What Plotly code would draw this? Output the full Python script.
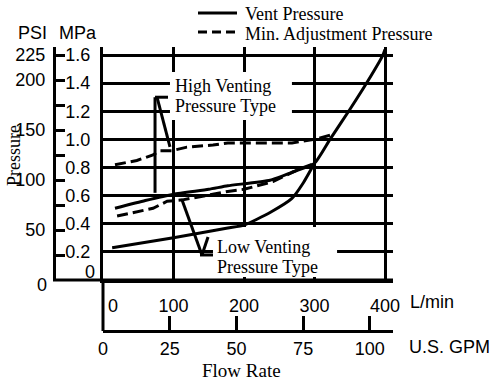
import plotly.graph_objects as go

W, H = 494, 381
SANS = "Liberation Sans, Arial, sans-serif"
SERIF = "Liberation Serif, Times New Roman, serif"

# ---------------- data (flow in L/min, pressure in MPa) ----------------
high_vent_flow = [17, 60, 100, 150, 177, 237, 270, 300, 322, 351, 375, 397, 400]
high_vent_mpa = [0.51, 0.565, 0.61, 0.645, 0.67, 0.71, 0.77, 0.83, 1.0, 1.22, 1.41, 1.60, 1.64]

low_vent_flow = [13, 100, 177, 200, 237, 268, 284, 300]
low_vent_mpa = [0.23, 0.30, 0.37, 0.39, 0.48, 0.58, 0.69, 0.83]

high_min_flow = [17, 48, 71, 81, 98, 119, 156, 177, 268, 300, 322]
high_min_mpa = [0.82, 0.85, 0.89, 0.92, 0.92, 0.945, 0.96, 0.975, 0.975, 1.0, 1.03]

low_min_flow = [20, 71, 91, 113, 177, 200, 241, 279, 300]
low_min_mpa = [0.455, 0.51, 0.56, 0.57, 0.63, 0.645, 0.70, 0.79, 0.83]

lpm_ticks = [0, 100, 200, 300, 400]
lpm_ticktext = ["\u00a0\u00a0\u00a0\u00a00", "100", "200", "300", "400"]
gpm_ticks = [0, 25, 50, 75, 100]
mpa_ticks = [0, 0.2, 0.4, 0.6, 0.8, 1.0, 1.2, 1.4, 1.6]
mpa_ticktext = ["", "0.2", "0.4", "0.6", "0.8", "1.0", "1.2", "1.4", "1.6"]
psi_ticks = [0, 25, 50, 75, 100, 125, 150, 175, 200, 225]
psi_ticktext = ["", "", "50", "", "100", "", "150", "", "200", "225"]

legend_names = ["Vent Pressure", "Min. Adjustment Pressure"]

LPM_PER_GPM = 3.785

# callout pointer segments (L/min, MPa)
high_callout_x0 = [73.8, 73.8, 76.6]
high_callout_y0 = [1.30, 1.30, 1.30]
high_callout_x1 = [92.2, 73.8, 95.0]
high_callout_y1 = [1.30, 0.62, 0.946]
low_callout_x0 = [112.0, 149.0, 137.6]
low_callout_y0 = [0.57, 0.306, 0.178]
low_callout_x1 = [140.4, 140.4, 156.0]
low_callout_y1 = [0.178, 0.178, 0.178]

# ---------------- geometry helpers (window pixels -> paper) ----------------
def px(x):
    return x / W

def py(y):
    return 1 - y / H

X_LEFT, X_RIGHT = 103, 393
Y_BOTTOM, Y_TOP = 280, 47
LPM_MAX = (X_RIGHT - X_LEFT) / 0.705
MPA_MAX = (Y_BOTTOM - Y_TOP) / 140.6
PSI_MAX = (Y_BOTTOM - Y_TOP) / 1.0

fig = go.Figure()

line_style = dict(color="black", width=3)
DASH = "11px,5px"
fig.add_trace(go.Scatter(x=high_vent_flow, y=high_vent_mpa, mode="lines",
                         line=dict(**line_style, shape="spline", smoothing=0.5),
                         name=legend_names[0]))
fig.add_trace(go.Scatter(x=high_min_flow, y=high_min_mpa, mode="lines",
                         line=dict(**line_style, dash=DASH), name=legend_names[1]))
fig.add_trace(go.Scatter(x=low_vent_flow, y=low_vent_mpa, mode="lines",
                         line=dict(**line_style, shape="spline", smoothing=0.5),
                         name=legend_names[0]))
fig.add_trace(go.Scatter(x=low_min_flow, y=low_min_mpa, mode="lines",
                         line=dict(**line_style, dash=DASH), name=legend_names[1]))
# invisible traces to activate the secondary axes
fig.add_trace(go.Scatter(x=[0], y=[0], yaxis="y2", mode="markers",
                         marker=dict(opacity=0), hoverinfo="skip"))
fig.add_trace(go.Scatter(x=[0], y=[0], xaxis="x2", mode="markers",
                         marker=dict(opacity=0), hoverinfo="skip"))

shapes = []
# white boxes behind callout texts (cover the grid, not the curves)
shapes.append(dict(type="rect", xref="x", yref="y", x0=95, x1=268, y0=1.138, y1=1.479,
                   fillcolor="white", line=dict(width=0), layer="between"))
shapes.append(dict(type="rect", xref="x", yref="y", x0=156, x1=332, y0=0.021, y1=0.377,
                   fillcolor="white", line=dict(width=0), layer="between"))
# callout pointers
for xs0, ys0, xs1, ys1 in [(high_callout_x0, high_callout_y0, high_callout_x1, high_callout_y1),
                           (low_callout_x0, low_callout_y0, low_callout_x1, low_callout_y1)]:
    for a, b, c, d in zip(xs0, ys0, xs1, ys1):
        shapes.append(dict(type="line", xref="x", yref="y", x0=a, y0=b, x1=c, y1=d,
                           line=dict(color="black", width=3)))
# bottom base line extending to the PSI axis
shapes.append(dict(type="line", xref="paper", yref="paper", x0=px(53), x1=px(X_RIGHT),
                   y0=py(Y_BOTTOM), y1=py(Y_BOTTOM), line=dict(color="black", width=3)))
# left line extension down to the GPM axis
shapes.append(dict(type="line", xref="paper", yref="paper", x0=px(X_LEFT), x1=px(X_LEFT),
                   y0=py(Y_BOTTOM), y1=py(331), line=dict(color="black", width=3)))
# legend line samples
shapes.append(dict(type="line", xref="paper", yref="paper", x0=px(198), x1=px(237),
                   y0=py(13), y1=py(13), line=dict(color="black", width=3)))
shapes.append(dict(type="line", xref="paper", yref="paper", x0=px(198), x1=px(237),
                   y0=py(32), y1=py(32), line=dict(color="black", width=3, dash="9px,5px")))

ann = []
def text(x, y, s, size=18, font=SERIF, xanchor="center", yanchor="middle", angle=0):
    ann.append(dict(x=x, y=y, xref="paper", yref="paper", text=s, showarrow=False,
                    xanchor=xanchor, yanchor=yanchor, textangle=angle, borderpad=0,
                    font=dict(family=font, size=size, color="black")))

text(px(32), py(33), "PSI", font=SANS)
text(px(78), py(33), "MPa", font=SANS)
text(px(42), py(285), "0", font=SANS)
text(px(90), py(272), "0", font=SANS)
text(px(14), py(156), "Pressure", angle=-90)
text(px(241), py(370), "Flow Rate", size=19)
text(px(409), py(302), "L/min", font=SANS, xanchor="left")
text(px(408), py(347), "U.S. GPM", font=SANS, xanchor="left")
text(px(244), py(14), legend_names[0], xanchor="left")
text(px(244), py(34), legend_names[1], xanchor="left")
text(px(174), py(86), "High Venting", xanchor="left")
text(px(174), py(106), "Pressure Type", xanchor="left")
text(px(216), py(247), "Low Venting", xanchor="left")
text(px(216), py(267), "Pressure Type", xanchor="left")

fig.update_layout(
    width=W, height=H, margin=dict(l=0, r=0, t=0, b=0, pad=0, autoexpand=False),
    paper_bgcolor="white", plot_bgcolor="white",
    font=dict(family=SANS, size=18, color="black"),
    showlegend=False,
    xaxis=dict(domain=[px(X_LEFT), px(X_RIGHT)], range=[0, LPM_MAX], automargin=False,
               tickvals=lpm_ticks, ticktext=lpm_ticktext, ticks="", ticklabelstandoff=7,
               showgrid=True, gridcolor="black", gridwidth=3,
               showline=True, linecolor="black", linewidth=3, zeroline=False,
               tickfont=dict(family=SANS, size=18)),
    xaxis2=dict(overlaying="x", anchor="free", position=py(331), side="bottom", automargin=False,
                range=[0, LPM_MAX / LPM_PER_GPM], tickvals=gpm_ticks,
                ticks="inside", ticklen=14, tickwidth=3, tickcolor="black",
                showline=True, linecolor="black", linewidth=3, showgrid=False, zeroline=False,
                ticklabelstandoff=0, tickfont=dict(family=SANS, size=18)),
    yaxis=dict(domain=[py(Y_BOTTOM), py(Y_TOP)], range=[0, MPA_MAX], automargin=False,
               tickvals=mpa_ticks, ticktext=mpa_ticktext, ticks="", ticklabelstandoff=6,
               showgrid=True, gridcolor="black", gridwidth=3,
               showline=True, linecolor="black", linewidth=3, zeroline=False,
               tickfont=dict(family=SANS, size=18)),
    yaxis2=dict(overlaying="y", anchor="free", position=px(54), side="left", automargin=False,
                range=[0, PSI_MAX], tickvals=psi_ticks, ticktext=psi_ticktext,
                ticks="inside", ticklen=9, tickwidth=3, tickcolor="black",
                showline=True, linecolor="black", linewidth=3, showgrid=False, zeroline=False,
                ticklabelstandoff=4, tickfont=dict(family=SANS, size=18)),
    shapes=shapes, annotations=ann,
)

# remove the default 8px page margin so the figure fills the window exactly
fig.write_html("out.html", config={"displayModeBar": False},
               post_script="document.body.style.margin='0px';")
